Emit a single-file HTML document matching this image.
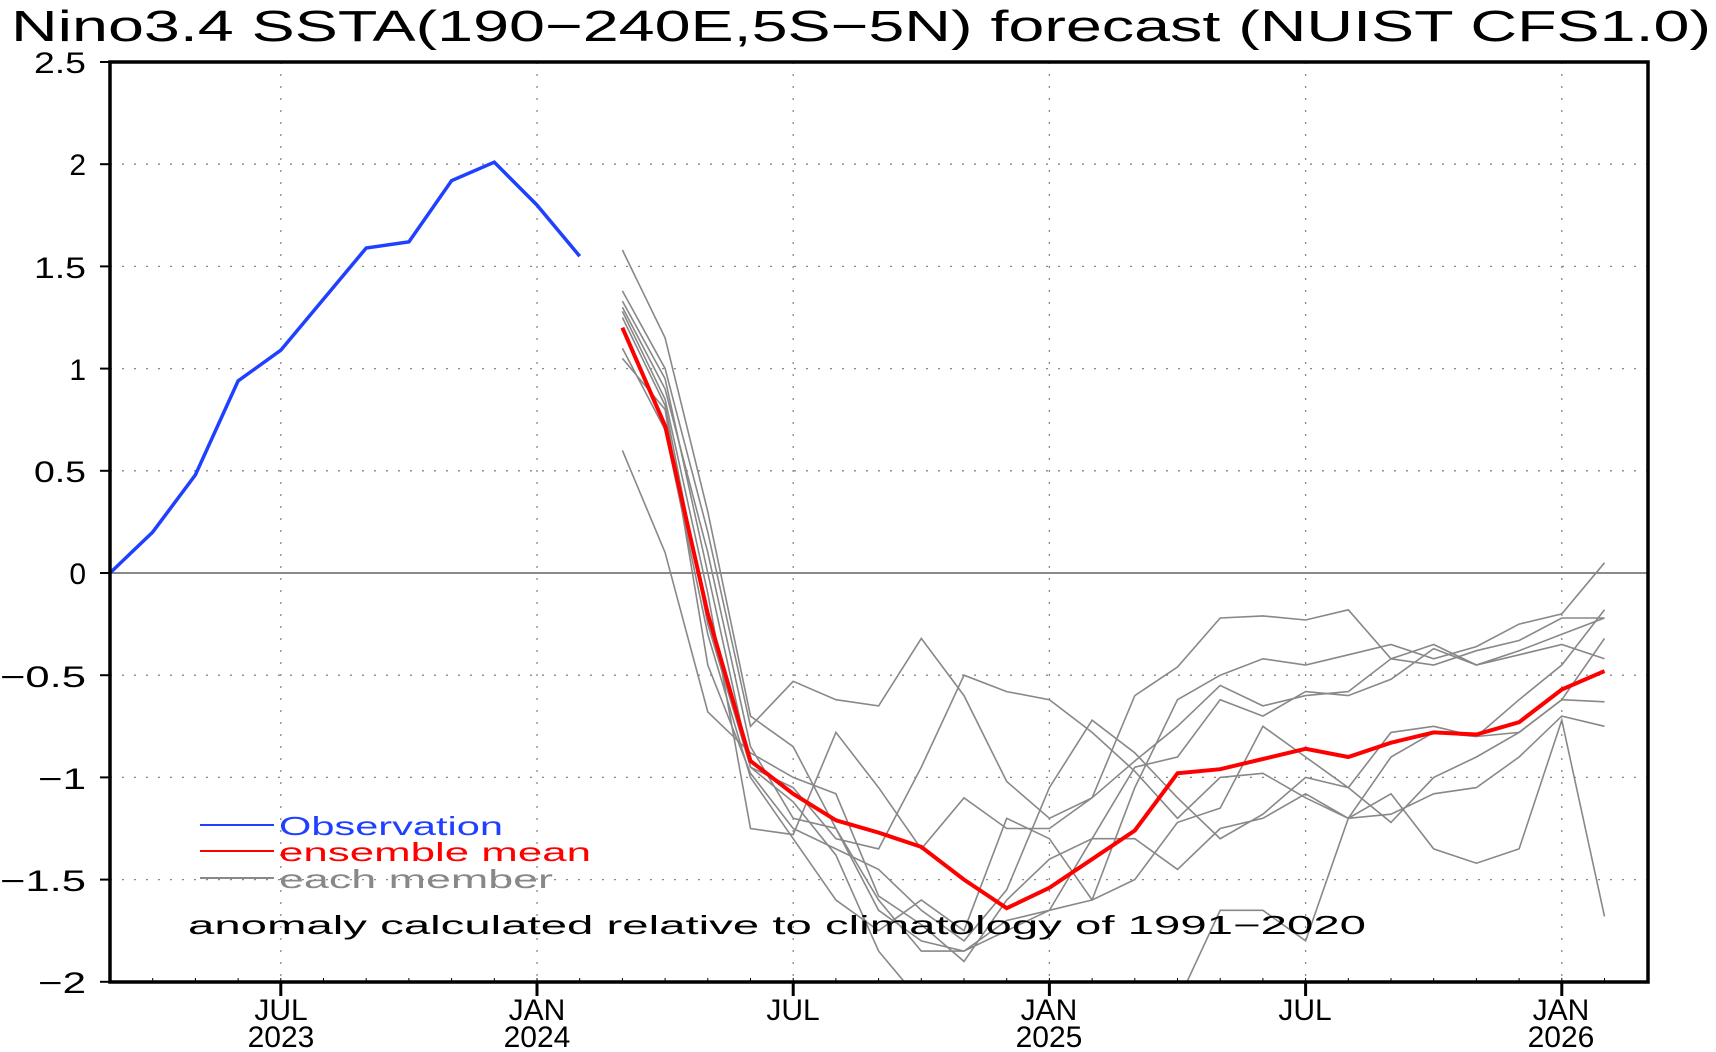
<!DOCTYPE html>
<html><head><meta charset="utf-8"><style>
html,body{margin:0;padding:0;background:#fff;}
svg{display:block;}
text{font-family:"Liberation Sans",sans-serif;fill:#000;}
</style></head><body>
<svg id="s" width="1716" height="1052" viewBox="0 0 1716 1052" xmlns="http://www.w3.org/2000/svg">
<rect width="1716" height="1052" fill="#fff"/>
<text x="11" y="41" font-size="44" textLength="1700" lengthAdjust="spacingAndGlyphs">Nino3.4 SSTA(190−240E,5S−5N) forecast (NUIST CFS1.0)</text>
<g id="grid"></g>
<g font-size="30" text-anchor="end">
<text x="86" y="73" textLength="52" lengthAdjust="spacingAndGlyphs">2.5</text>
<text x="86" y="175">2</text>
<text x="86" y="278" textLength="52" lengthAdjust="spacingAndGlyphs">1.5</text>
<text x="86" y="380">1</text>
<text x="86" y="482" textLength="52" lengthAdjust="spacingAndGlyphs">0.5</text>
<text x="86" y="584">0</text>
<text x="86" y="687" textLength="86" lengthAdjust="spacingAndGlyphs">−0.5</text>
<text x="86" y="789" textLength="48" lengthAdjust="spacingAndGlyphs">−1</text>
<text x="86" y="891" textLength="86" lengthAdjust="spacingAndGlyphs">−1.5</text>
<text x="86" y="993" textLength="48" lengthAdjust="spacingAndGlyphs">−2</text>
</g>
<g font-size="30" text-anchor="middle">
<text x="281" y="1020">JUL</text><text x="281" y="1047">2023</text>
<text x="537" y="1020">JAN</text><text x="537" y="1047">2024</text>
<text x="793" y="1020">JUL</text>
<text x="1049" y="1020">JAN</text><text x="1049" y="1047">2025</text>
<text x="1305" y="1020">JUL</text>
<text x="1561" y="1020">JAN</text><text x="1561" y="1047">2026</text>
</g>
<g id="lines"></g>
<line x1="200" y1="825" x2="274" y2="825" stroke="#2040ff" stroke-width="2"/>
<line x1="200" y1="851" x2="274" y2="851" stroke="#f00" stroke-width="2"/>
<line x1="200" y1="878" x2="274" y2="878" stroke="#888" stroke-width="2"/>
<g font-size="26">
<text x="279" y="835" style="fill:#2040ff" textLength="224" lengthAdjust="spacingAndGlyphs">Observation</text>
<text x="279" y="861" style="fill:#f00" textLength="312" lengthAdjust="spacingAndGlyphs">ensemble mean</text>
<text x="279" y="888" style="fill:#888" textLength="274" lengthAdjust="spacingAndGlyphs">each member</text>
<text x="188" y="934" textLength="1178" lengthAdjust="spacingAndGlyphs">anomaly calculated relative to climatology of 1991−2020</text>
</g>
<rect x="110" y="62" width="1538" height="920" fill="none" stroke="#000" stroke-width="3.5"/>
</svg>
<script>
var NS="http://www.w3.org/2000/svg";
function X(m){return 110+42.7*m;}
function Y(v){return 62+(2.5-v)*204.4;}
function el(p,t,a){var e=document.createElementNS(NS,t);for(var k in a)e.setAttribute(k,a[k]);p.appendChild(e);return e;}
var g=document.getElementById('grid'),L=document.getElementById('lines');
for(var v=-1.5;v<=2.01;v+=0.5){if(Math.abs(v)<0.01)continue;el(g,'line',{x1:110,x2:1648,y1:Y(v),y2:Y(v),stroke:'#888','stroke-width':1.3,'stroke-dasharray':'2,10'});}
el(g,'line',{x1:110,x2:1648,y1:Y(0),y2:Y(0),stroke:'#444','stroke-width':1.3});
[4,10,16,22,28,34].forEach(function(m){el(g,'line',{x1:X(m),x2:X(m),y1:62,y2:982,stroke:'#888','stroke-width':1.3,'stroke-dasharray':'2,10'});el(g,'line',{x1:X(m),x2:X(m),y1:982,y2:996,stroke:'#000','stroke-width':3});});
for(var m=1;m<36;m++){el(g,'line',{x1:X(m),x2:X(m),y1:978,y2:982,stroke:'#000','stroke-width':1});}
for(var v=-2;v<=2.5;v+=0.5){el(g,'line',{x1:100,x2:110,y1:Y(v),y2:Y(v),stroke:'#000','stroke-width':2});}
function pl(arr,m0,col,w){var p=[];arr.forEach(function(v,i){p.push(X(m0+i).toFixed(1)+','+Y(v).toFixed(1));});el(L,'polyline',{points:p.join(' '),fill:'none',stroke:col,'stroke-width':w,'stroke-linejoin':'miter'});}
var mem=[
[1.58,1.15,0.3,-0.7,-0.85,-1.25,-1.6,-1.85,-1.85,-1.75,-1.65,-1.3,-0.95,-0.9,-0.62,-0.7,-0.58,-0.6,-0.52,-0.37,-0.45,-0.38,-0.3,-0.22],
[1.38,1.0,0.2,-0.75,-0.53,-0.62,-0.65,-0.32,-0.6,-1.02,-1.2,-1.1,-0.6,-0.46,-0.22,-0.21,-0.23,-0.18,-0.42,-0.35,-0.45,-0.4,-0.35,-0.42],
[1.33,0.95,0.0,-0.95,-1.05,-1.3,-1.35,-0.95,-0.5,-0.58,-0.62,-0.78,-0.97,-1.2,-1.0,-0.98,-1.1,-1.2,-0.9,-0.78,-0.8,-0.62,-0.45,-0.18],
[1.3,0.9,0.1,-0.85,-1.2,-1.25,-1.65,-1.8,-1.85,-1.7,-1.65,-1.6,-1.05,-0.62,-0.5,-0.42,-0.45,-0.4,-0.35,-0.42,-0.36,-0.25,-0.2,0.05],
[1.28,0.85,-0.1,-1.25,-1.28,-0.78,-1.05,-1.35,-1.1,-1.25,-1.25,-1.1,-0.92,-0.75,-0.55,-0.65,-0.6,-0.58,-0.42,-0.45,-0.38,-0.33,-0.22,-0.22],
[1.1,0.7,-0.3,-1.0,-1.3,-1.6,-1.75,-1.6,-1.75,-1.2,-1.3,-1.6,-1.5,-1.22,-1.15,-0.75,-0.9,-1.05,-0.78,-0.75,-0.8,-0.78,-0.62,-0.32],
[1.05,0.8,-0.45,-0.98,-1.25,-1.35,-1.45,-1.65,-1.8,-1.55,-1.05,-0.72,-0.88,-1.1,-1.3,-1.18,-1.0,-1.05,-1.22,-1.0,-0.9,-0.78,-0.62,-0.63],
[0.6,0.1,-0.68,-0.88,-1.0,-1.08,-1.58,-1.72,-1.9,-1.6,-1.4,-1.3,-1.3,-1.45,-1.25,-1.2,-1.08,-1.2,-1.18,-1.08,-1.05,-0.9,-0.7,-0.75],
[1.25,0.82,-0.25,-0.95,-1.12,-1.38,-1.85,-2.1,-2.3,-2.2,-2.2,-2.3,-2.3,-2.1,-1.65,-1.65,-1.8,-1.2,-1.08,-1.35,-1.42,-1.35,-0.72,-1.68]];
var cp=el(L,'clipPath',{id:'c'});el(cp,'rect',{x:110,y:62,width:1538,height:920});
var gm=el(L,'g',{'clip-path':'url(#c)'});
L=gm;
mem.forEach(function(a){pl(a,12,'#888',1.6);});
pl([1.2,0.72,-0.2,-0.92,-1.08,-1.21,-1.27,-1.34,-1.5,-1.64,-1.54,-1.4,-1.26,-0.98,-0.96,-0.91,-0.86,-0.9,-0.83,-0.78,-0.79,-0.73,-0.57,-0.48],12,'#f00',4);
pl([0,0.2,0.48,0.94,1.09,1.34,1.59,1.62,1.92,2.01,1.8,1.55],0,'#2040ff',3.5);
</script>
</body></html>
